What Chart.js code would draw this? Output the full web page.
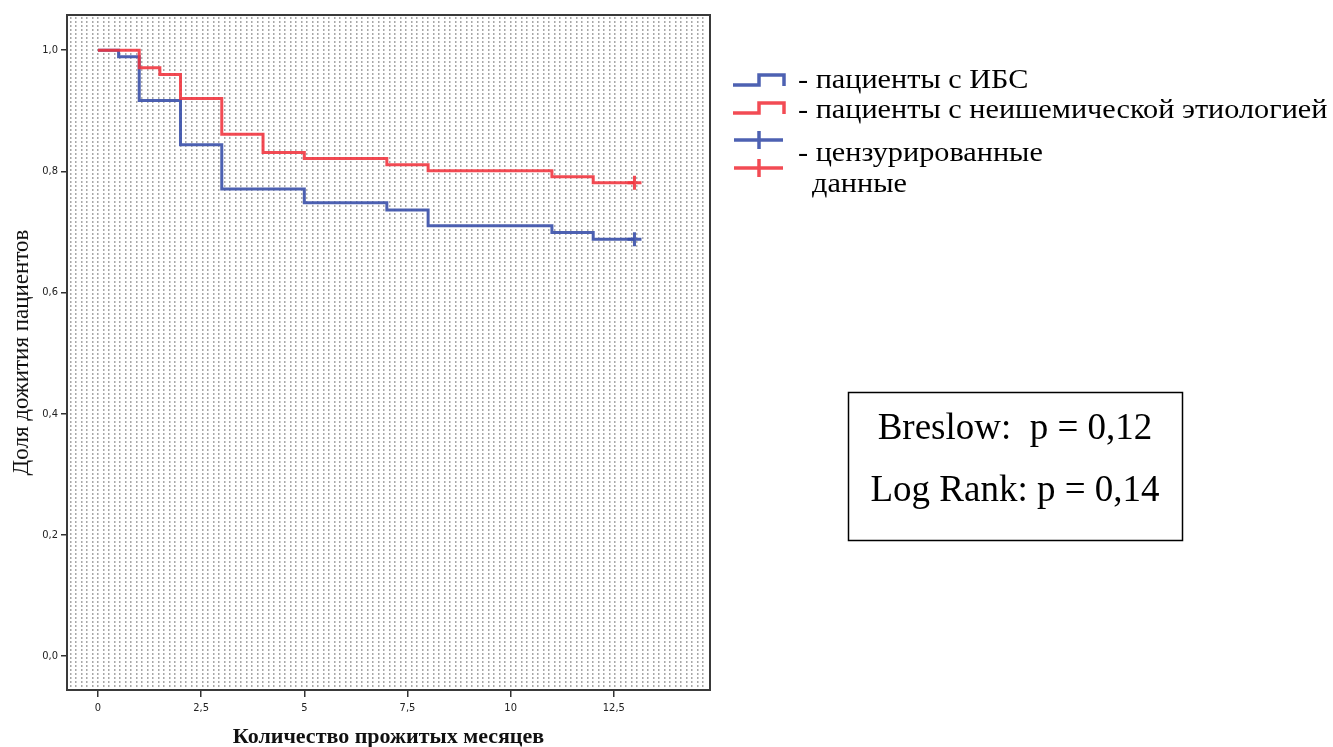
<!DOCTYPE html>
<html>
<head>
<meta charset="utf-8">
<script src="https://cdn.jsdelivr.net/npm/chart.js@4/dist/chart.umd.min.js"></script>
<style>
  html, body { margin: 0; padding: 0; background: #fff; }
  #wrap { width: 1333px; height: 747px; position: relative; }
</style>
</head>
<body>
<div id="wrap"><canvas id="km" width="1333" height="747"></canvas></div>
<script>
// Kaplan–Meier survival, months since enrolment
const ihdTimes = [0, 0.5, 1, 2, 3, 5, 7, 8, 11, 12, 13];
const ihdSurvival = [1.0, 0.989, 0.917, 0.844, 0.771, 0.748, 0.736, 0.710, 0.699, 0.688, 0.688];
const nonIschTimes = [0, 1, 1.5, 2, 3, 4, 5, 7, 8, 11, 12, 13];
const nonIschSurvival = [1.0, 0.971, 0.960, 0.920, 0.861, 0.831, 0.821, 0.811, 0.801, 0.791, 0.781, 0.781];
const censorTime = 13;

const xTickValues = [0, 2.5, 5, 7.5, 10, 12.5];
const xTickLabels = ['0', '2,5', '5', '7,5', '10', '12,5'];
const yTickValues = [0, 0.2, 0.4, 0.6, 0.8, 1.0];
const yTickLabels = ['0,0', '0,2', '0,4', '0,6', '0,8', '1,0'];

const legendLabels = ['- пациенты с ИБС', '- пациенты с неишемической этиологией', '- цензурированные', 'данные'];
const statLines = ['Breslow:  p = 0,12', 'Log Rank: p = 0,14'];

const BLUE = 'rgba(58, 80, 170, 0.9)';
const RED = 'rgba(240, 50, 60, 0.88)';

const toPoints = (ts, ss) => ts.map((t, i) => ({ x: t, y: ss[i] }));

// last point of each curve carries the censoring cross
const censorRadius = (ctx) => (ctx.raw && ctx.raw.x === censorTime ? 7 : 0);

const dottedBackground = {
  id: 'dottedBackground',
  beforeDatasetsDraw(chart) {
    const { ctx, chartArea: a } = chart;
    ctx.save();
    ctx.fillStyle = '#fff';
    ctx.fillRect(a.left, a.top, a.right - a.left, a.bottom - a.top);
    let k = 0;
    for (let x = a.left + 3; x < a.right - 2; x += (k % 2 === 0 ? 5 : 6), k++) {
      for (let y = a.top + 2; y < a.bottom - 1; y += 4) {
        ctx.fillStyle = '#a8a8a8';
        ctx.fillRect(x, y, 1, 2);
        ctx.fillStyle = '#d2d2d2';
        ctx.fillRect(x + 1, y, 1, 2);
      }
    }
    ctx.restore();
  },
  afterDatasetsDraw(chart) {
    const { ctx, chartArea: a } = chart;
    ctx.save();
    ctx.strokeStyle = '#3a3a3a';
    ctx.lineWidth = 2;
    ctx.strokeRect(a.left, a.top, a.right - a.left, a.bottom - a.top);
    ctx.restore();
  }
};

const sideAnnotations = {
  id: 'sideAnnotations',
  afterDraw(chart) {
    const ctx = chart.ctx;
    ctx.save();
    ctx.lineCap = 'butt';
    ctx.lineJoin = 'miter';
    // step-shaped series keys
    const stepKey = (color, y) => {
      ctx.strokeStyle = color;
      ctx.lineWidth = 3.5;
      ctx.beginPath();
      ctx.moveTo(733, y + 10);
      ctx.lineTo(759, y + 10);
      ctx.lineTo(759, y);
      ctx.lineTo(784, y);
      ctx.lineTo(784, y + 11);
      ctx.stroke();
    };
    stepKey(BLUE, 75);
    stepKey(RED, 103);
    // censoring crosses
    const crossKey = (color, y) => {
      ctx.strokeStyle = color;
      ctx.lineWidth = 3.5;
      ctx.beginPath();
      ctx.moveTo(734, y);
      ctx.lineTo(783, y);
      ctx.moveTo(759, y - 9);
      ctx.lineTo(759, y + 9);
      ctx.stroke();
    };
    crossKey(BLUE, 140);
    crossKey(RED, 168);

    // legend text, slightly widened serif
    ctx.fillStyle = '#000';
    ctx.font = '27px "Liberation Serif", "Times New Roman", serif';
    ctx.textBaseline = 'middle';
    ctx.textAlign = 'left';
    const sx = 1.12;
    const legendText = (txt, x, y) => {
      ctx.save();
      ctx.translate(x, y);
      ctx.scale(sx, 1);
      ctx.fillText(txt, 0, 0);
      ctx.restore();
    };
    legendText(legendLabels[0], 798, 81);
    legendText(legendLabels[1], 798, 111);
    legendText(legendLabels[2], 798, 154);
    legendText(legendLabels[3], 812, 185);

    // test statistics box
    ctx.strokeStyle = '#000';
    ctx.lineWidth = 1.5;
    ctx.strokeRect(848.5, 392.5, 334, 148);
    ctx.font = '37px "Liberation Serif", "Times New Roman", serif';
    ctx.textAlign = 'center';
    ctx.fillText(statLines[0], 1015, 429);
    ctx.fillText(statLines[1], 1015, 491);
    ctx.restore();
  }
};

const tickFont = { family: '"Liberation Sans Narrow", "DejaVu Sans Condensed", "Liberation Sans", sans-serif', size: 11 };

new Chart(document.getElementById('km'), {
  type: 'line',
  data: {
    datasets: [
      {
        label: 'пациенты с неишемической этиологией',
        data: toPoints(nonIschTimes, nonIschSurvival),
        borderColor: RED,
        backgroundColor: RED,
        borderWidth: 3,
        stepped: 'before',
        pointStyle: 'cross',
        pointRadius: censorRadius,
        pointBorderWidth: 3,
        pointBorderColor: RED,
        pointHoverRadius: 0,
        fill: false
      },
      {
        label: 'пациенты с ИБС',
        data: toPoints(ihdTimes, ihdSurvival),
        borderColor: BLUE,
        backgroundColor: BLUE,
        borderWidth: 3,
        stepped: 'before',
        pointStyle: 'cross',
        pointRadius: censorRadius,
        pointBorderWidth: 3,
        pointBorderColor: BLUE,
        pointHoverRadius: 0,
        fill: false
      }
    ]
  },
  options: {
    responsive: false,
    animation: false,
    events: [],
    layout: { padding: { left: 0, top: 15, right: 623, bottom: 0 } },
    plugins: { legend: { display: false }, tooltip: { enabled: false } },
    scales: {
      x: {
        type: 'linear',
        min: -0.75,
        max: 14.83,
        afterFit(scale) { scale.height = 57; },
        afterBuildTicks(scale) { scale.ticks = xTickValues.map(v => ({ value: v })); },
        ticks: {
          callback: (v) => xTickLabels[xTickValues.indexOf(v)],
          font: tickFont,
          color: '#222',
          padding: 5,
          maxRotation: 0
        },
        grid: { drawOnChartArea: false, drawTicks: true, tickLength: 7, color: '#333', lineWidth: 1.5 },
        border: { display: false },
        title: {
          display: true,
          text: 'Количество прожитых месяцев',
          font: { family: '"Liberation Serif", "Times New Roman", serif', size: 22, weight: 'bold', lineHeight: 1 },
          color: '#111',
          padding: { top: 0, bottom: -1 }
        }
      },
      y: {
        type: 'linear',
        min: -0.056,
        max: 1.058,
        afterFit(scale) { scale.width = 67; },
        afterBuildTicks(scale) { scale.ticks = yTickValues.map(v => ({ value: v })); },
        ticks: {
          callback: (v) => yTickLabels[yTickValues.indexOf(v)],
          font: tickFont,
          color: '#222',
          padding: 3
        },
        grid: { drawOnChartArea: false, drawTicks: true, tickLength: 6, color: '#333', lineWidth: 1.5 },
        border: { display: false },
        title: {
          display: true,
          text: 'Доля дожития пациентов',
          font: { family: '"Liberation Serif", "Times New Roman", serif', size: 23, lineHeight: 1 },
          color: '#111',
          padding: { top: 10, bottom: 0 }
        }
      }
    }
  },
  plugins: [dottedBackground, sideAnnotations]
});
</script>
</body>
</html>
